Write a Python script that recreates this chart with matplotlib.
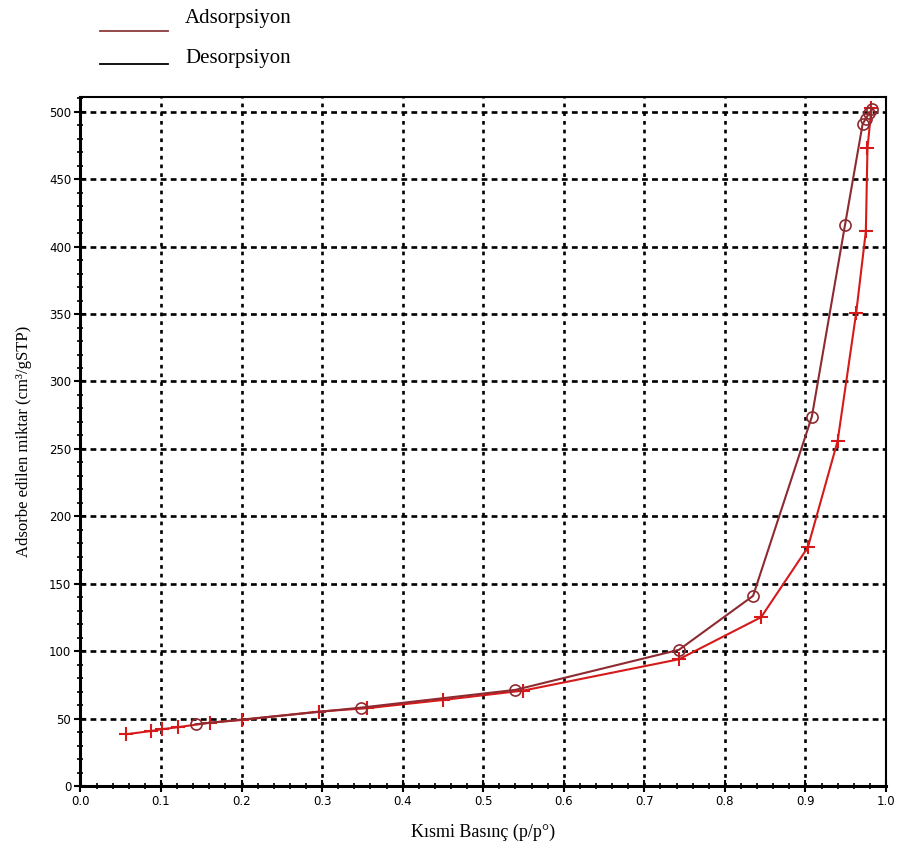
import numpy as np
import matplotlib
matplotlib.use("Agg")
import matplotlib.pyplot as plt
from matplotlib.lines import Line2D
from matplotlib.ticker import MultipleLocator, FormatStrFormatter

# adsorption branch (+ markers)
ads_p = [0.057, 0.088, 0.101, 0.121, 0.161, 0.200, 0.296, 0.356, 0.450, 0.550,
         0.743, 0.845, 0.903, 0.940, 0.963, 0.975, 0.977, 0.982]
ads_v = [38.4, 40.8, 42.1, 43.6, 47.0, 49.0, 55.2, 57.7, 63.8, 70.8,
         94.0, 125.2, 177.0, 256.0, 351.0, 411.5, 473.0, 503.0]

# desorption branch (o markers)
des_p = [0.983, 0.979, 0.975, 0.971, 0.949, 0.908, 0.835, 0.743, 0.540, 0.348, 0.143]
des_v = [502.0, 499.0, 495.0, 491.0, 415.7, 274.0, 141.0, 101.0, 71.3, 58.1, 45.8]

ads_col = '#d61a1a'
des_col = '#8e2a30'

fig = plt.figure(figsize=(9.05, 8.56), dpi=100)
ax = fig.add_axes([80.4/905, 70/856, 805.6/905, 689/856])

ax.plot(ads_p, ads_v, color=ads_col, lw=1.5, marker='+', ms=10, mew=1.5, zorder=3)
ax.plot(des_p, des_v, color=des_col, lw=1.5, marker='o', ms=8, mfc='none', mew=1.2, zorder=3)

ax.set_xlim(0, 1.0)
ax.set_ylim(0, 511)
ax.xaxis.set_major_locator(MultipleLocator(0.1))
ax.xaxis.set_minor_locator(MultipleLocator(0.02))
ax.yaxis.set_major_locator(MultipleLocator(50))
ax.yaxis.set_minor_locator(MultipleLocator(10))
ax.xaxis.set_major_formatter(FormatStrFormatter('%.1f'))

ax.xaxis.grid(True, which='major', color='black', linestyle=(0, (1.4, 1.9)), lw=1.9)
ax.yaxis.grid(True, which='major', color='black', linestyle=(0, (2.2, 1.6)), lw=1.9)
ax.tick_params(which='major', direction='inout', length=9, width=1.5, labelsize=8.5, pad=2)
ax.tick_params(which='minor', direction='inout', length=5, width=1.2)
for s in ['left', 'bottom']:
    ax.spines[s].set_linewidth(2.2)
for s in ['top', 'right']:
    ax.spines[s].set_linewidth(1.5)

serif = 'Liberation Serif'
ax.set_xlabel('Kısmi Basınç (p/p°)', fontsize=13, family=serif, labelpad=11)
ax.set_ylabel('Adsorbe edilen miktar (cm³/gSTP)', fontsize=12, family=serif, labelpad=12)

# legend above the axes
fig.add_artist(Line2D([100/905, 168/905], [1-31/856, 1-31/856], color='#8b3a3a', lw=1.3,
                      transform=fig.transFigure))
fig.add_artist(Line2D([100/905, 168/905], [1-64/856, 1-64/856], color='black', lw=1.3,
                      transform=fig.transFigure))
fig.text(185/905, 1-18/856, 'Adsorpsiyon', fontsize=15, family=serif, va='center')
fig.text(185/905, 1-59/856, 'Desorpsiyon', fontsize=15, family=serif, va='center')

fig.savefig('out.png', dpi=100)
